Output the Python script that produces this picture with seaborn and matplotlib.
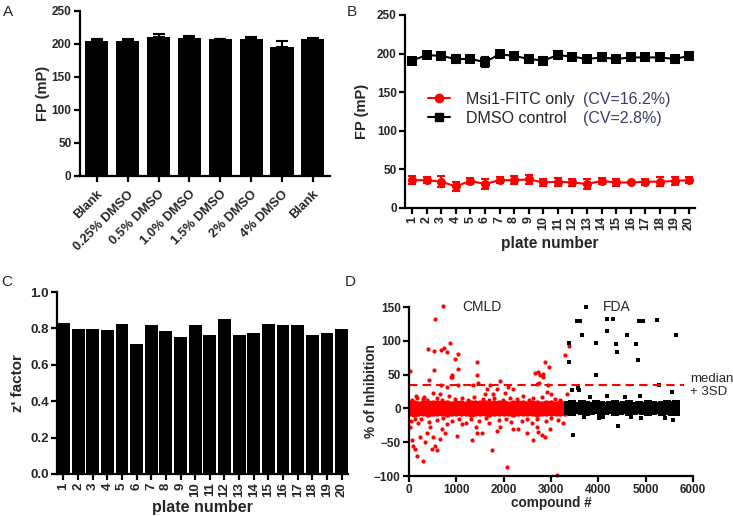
import numpy as np
import pandas as pd
import matplotlib
matplotlib.use('Agg')
from matplotlib import pyplot as plt
from matplotlib.lines import Line2D
import seaborn as sns

# ---------------- data ----------------
# A: DMSO tolerance
dmso_labels = ['Blank', '0.25% DMSO', '0.5% DMSO', '1.0% DMSO',
               '1.5% DMSO', '2% DMSO', '4% DMSO', 'Blank']
dmso_fp = [205, 205, 211, 209, 207, 207, 196, 208]
dmso_err = [2, 2, 4, 3, 1, 4, 8, 1]

# B: plate-to-plate FP
plates = [1, 2, 3, 4, 5, 6, 7, 8, 9, 10, 11, 12, 13, 14, 15, 16, 17, 18, 19, 20]
dmso_ctrl = [191, 198, 197, 193, 193, 189, 199, 197, 193, 191,
             198, 196, 193, 195, 193, 195, 195, 195, 193, 197]
dmso_ctrl_err = [3, 4, 3, 5, 3, 6, 3, 4, 5, 4, 5, 3, 4, 5, 3, 4, 4, 4, 5, 5]
msi1_only = [36, 36, 34, 28, 35, 31, 36, 36, 37, 33,
             34, 33, 31, 35, 33, 33, 34, 34, 35, 36]
msi1_only_err = [5, 4, 7, 6, 4, 6, 4, 5, 6, 4, 5, 4, 6, 4, 4, 1, 4, 6, 5, 4]

# C: z' factor per plate
zfactor = [0.828, 0.794, 0.794, 0.790, 0.826, 0.714, 0.817, 0.783, 0.753, 0.817,
           0.764, 0.854, 0.764, 0.774, 0.826, 0.817, 0.817, 0.764, 0.774, 0.794]

# D: screen, % inhibition
median_3sd = 34
# dense band of inactives (upper edge / centre / lower edge)
cmld_band_x = [0, 100, 200, 300, 400, 500, 600, 700, 800, 900, 1000, 1100,
               1200, 1300, 1400, 1500, 1600, 1700, 1800, 1900, 2000, 2100,
               2200, 2300, 2400, 2500, 2600, 2700, 2800, 2900, 3000, 3100,
               3200, 3300]
cmld_band_hi = [6, 7, 5, 7, 6, 7, 6, 7, 6, 5, 7, 6, 5, 7, 6, 7, 6,
                5, 7, 6, 7, 5, 6, 7, 6, 5, 7, 6, 5, 7, 6, 5, 6, 5]
cmld_band_mid = [0, 1, -1, 0, 1, 0, -1, 0, 1, 0, -1, 0, 1, 0, 0, -1, 1,
                 0, 0, 1, -1, 0, 1, 0, -1, 0, 1, 0, 0, -1, 1, 0, 0, 1]
cmld_band_lo = [-6, -7, -5, -6, -7, -5, -6, -5, -7, -6, -5, -6, -5, -7,
                -6, -5, -6, -7, -5, -6, -5, -6, -7, -5, -6, -5, -6, -7,
                -5, -6, -5, -6, -5, -6]
fda_band_x = [3350, 3450, 3550, 3650, 3750, 3850, 3950, 4050, 4150, 4250,
              4350, 4450, 4550, 4650, 4750, 4850, 4950, 5050, 5150, 5250,
              5350, 5450, 5550, 5650]
fda_band_hi = [5, 6, 4, 6, 5, 4, 6, 5, 4, 5, 6, 4, 5, 6, 4, 5, 4, 6, 5, 4, 5, 6, 5, 7]
fda_band_mid = [0, 1, 0, -1, 0, 1, 0, 0, -1, 0, 1, 0, 0, -1, 0, 1, 0, 0, -1, 0, 1, 0, 0, 1]
fda_band_lo = [-4, -5, -3, -4, -5, -4, -3, -5, -4, -3, -5, -4, -3, -5, -4,
               -3, -4, -5, -4, -3, -5, -4, -5, -6]

# scattered CMLD compounds
cmld_x = [712, 550, 409, 529, 677, 740, 810, 867, 973, 1028, 21, 536, 430,
          881, 917, 900, 1028, 1444, 1444, 1466, 810, 1042, 1353, 670, 500,
          148, 317, 655, 1642, 1712, 1607, 1769, 1854, 1924, 2030, 2100, 2206,
          2664, 2734, 2770, 2840, 2875, 2960, 2700, 2755, 2840, 2945, 2925,
          2995, 3298, 3370, 3333,
          60, 160, 300, 380, 590, 700, 850, 980, 1120, 1250, 1380, 1560, 1690,
          1800, 1990, 2130, 2290, 2400, 2530, 2610, 2810, 3080, 3200,
          40, 120, 200, 260, 420, 600, 720, 900, 1060, 1200, 1300, 1480, 1620,
          1700, 1900, 2050, 2150, 2380, 2500, 2600, 2700, 2900, 3000, 3150, 3250,
          21, 57, 92, 127, 176, 303, 233, 338, 374, 479, 550, 585, 514, 444,
          655, 691, 761, 797, 1008, 1114, 1325, 1431, 1537, 1416, 1748, 1854,
          1924, 2065, 2206, 2311, 2488, 2628, 2734, 2805, 2875, 3122, 2980, 2700]
cmld_y = [151, 133, 88, 85, 86, 90, 84, 97, 73, 80, 55, 57, 42,
          47, 49, 46, 58, 68, 49, 37, 31, 35, 34, 34, 23,
          19, 17, 22, 28, 35, 22, 21, 28, 40, 23, 32, 28,
          52, 54, 50, 51, 68, 61, 36, 38, 46, 35, 24,
          22, 79, 93, 22,
          12, 15, 14, 12, 16, 13, 18, 14, 16, 13, 17, 14, 12,
          15, 13, 16, 14, 18, 13, 15, 17, 14, 12,
          -18, -15, -22, -16, -20, -17, -14, -19, -16, -21, -15, -18, -14,
          -22, -17, -15, -20, -18, -16, -22, -15, -19, -14, -17, -21,
          -28, -47, -55, -60, -70, -78, -42, -50, -36, -60, -55, -62, -42, -28,
          -45, -30, -37, -23, -41, -23, -46, -36, -37, -28, -61, -33,
          -28, -86, -30, -30, -36, -47, -35, -40, -42, -99, -30, -28]

# scattered FDA compounds
fda_x = [3742, 3545, 3615, 4180, 4320, 4863, 4953, 5236, 3665, 4180, 4602,
         5638, 3383, 3947, 4370, 4793, 4391, 3383, 4848, 3953, 5285, 3440,
         3580, 3600, 3827, 4180, 4567, 4884, 5553,
         3460, 4425, 4023, 4905, 5575, 3700, 4100, 4700, 5400]
fda_y = [150, 130, 130, 132, 132, 130, 130, 131, 109, 114, 109,
         108, 97, 97, 96, 95, 83, 68, 71, 49, 35, 27,
         30, 27, 17, 19, 17, 19, 25,
         -39, -26, -14, -14, -17, -12, -13, -12, -14]

# ---------------- style ----------------
sns.set_style('ticks')
plt.rcParams['font.family'] = ['Liberation Sans', 'DejaVu Sans']

TICK_FS = 8.5


def prism_axes(ax):
    sns.despine(ax=ax)
    for side in ['left', 'bottom']:
        ax.spines[side].set_linewidth(1.6)
        ax.spines[side].set_color('black')
    ax.tick_params(width=1.6, length=4, labelsize=TICK_FS, color='black',
                   pad=2)


def bold_ticks(ax):
    for lbl in ax.get_xticklabels() + ax.get_yticklabels():
        lbl.set_fontweight('bold')


fig = plt.figure(figsize=(7.33, 5.16), dpi=100)

# ---------------- A ----------------
ax = fig.add_axes([0.109, 0.659, 0.341, 0.320])
df_a = pd.DataFrame({'cond': dmso_labels, 'fp': dmso_fp, 'err': dmso_err})
sns.barplot(x=df_a.index, y=df_a['fp'], color='black', saturation=1,
            width=0.75, errorbar=None, linewidth=0, ax=ax)
ax.errorbar(df_a.index, df_a['fp'], yerr=[np.zeros(len(df_a)), df_a['err']],
            fmt='none', ecolor='black', elinewidth=1.5, capsize=4, capthick=1.5)
prism_axes(ax)
ax.set_xlim(-0.55, 7.55)
ax.set_ylim(0, 250)
ax.set_yticks([0, 50, 100, 150, 200, 250])
ax.set_xticks(df_a.index)
ax.set_xticklabels(dmso_labels, rotation=45, ha='right', rotation_mode='anchor',
                   fontsize=9.3)
ax.tick_params(axis='x', pad=5)
ax.set_xlabel('')
ax.set_ylabel('FP (mP)', fontsize=10.5, fontweight='bold')
ax.yaxis.set_label_coords(-0.12, 0.5)
bold_ticks(ax)

# ---------------- B ----------------
ax = fig.add_axes([0.5525, 0.597, 0.3956, 0.374])
sns.lineplot(x=plates, y=dmso_ctrl, color='black', marker='s', markersize=6.5,
             markeredgewidth=0, linewidth=1.5, ax=ax)
ax.errorbar(plates, dmso_ctrl, yerr=dmso_ctrl_err, fmt='none', ecolor='black',
            elinewidth=1.5, capsize=3, capthick=1.5)
sns.lineplot(x=plates, y=msi1_only, color='red', marker='o', markersize=6.5,
             markeredgewidth=0, linewidth=1.5, ax=ax)
ax.errorbar(plates, msi1_only, yerr=msi1_only_err, fmt='none', ecolor='red',
            elinewidth=1.5, capsize=3, capthick=1.5)
prism_axes(ax)
ax.set_xlim(0.52, 20.4)
ax.set_ylim(0, 250)
ax.set_yticks([0, 50, 100, 150, 200, 250])
ax.set_xticks(plates)
ax.set_xticklabels(plates, rotation=90, fontsize=9)
ax.set_xlabel('plate number', fontsize=11.2, fontweight='bold')
ax.xaxis.set_label_coords(0.5, -0.145)
ax.set_ylabel('FP (mP)', fontsize=10.5, fontweight='bold')
ax.yaxis.set_label_coords(-0.124, 0.5)
handles = [Line2D([], [], color='red', marker='o', markersize=6, lw=1.5),
           Line2D([], [], color='black', marker='s', markersize=6, lw=1.5)]
ax.legend(handles, ['Msi1-FITC only', 'DMSO control'], loc='upper left',
          bbox_to_anchor=(0.03, 0.676), frameon=False, fontsize=11.5,
          handlelength=1.4, handletextpad=1.0, labelspacing=0.25)
ax.text(0.614, 0.56, '(CV=16.2%)', transform=ax.transAxes, fontsize=11.5,
        color='#3c3c6e', va='center')
ax.text(0.614, 0.461, '(CV=2.8%)', transform=ax.transAxes, fontsize=11.5,
        color='#3c3c6e', va='center')
bold_ticks(ax)

# ---------------- C ----------------
ax = fig.add_axes([0.0778, 0.0814, 0.397, 0.3527])
sns.barplot(x=plates, y=zfactor, color='black', saturation=1, width=0.88,
            errorbar=None, linewidth=0, ax=ax)
prism_axes(ax)
ax.set_xlim(-0.44, 19.44)
ax.set_ylim(0, 1.0)
ax.set_yticks([0.0, 0.2, 0.4, 0.6, 0.8, 1.0])
ax.set_yticklabels(['0.0', '0.2', '0.4', '0.6', '0.8', '1.0'], fontsize=9.5)
ax.set_xticks(range(len(plates)))
ax.set_xticklabels(plates, rotation=90, fontsize=9.5)
ax.set_xlabel('plate number', fontsize=11.5, fontweight='bold')
ax.xaxis.set_label_coords(0.5, -0.143)
ax.set_ylabel("z' factor", fontsize=11, fontweight='bold')
ax.yaxis.set_label_coords(-0.11, 0.5)
bold_ticks(ax)

# ---------------- D ----------------
ax = fig.add_axes([0.558, 0.0775, 0.3874, 0.3275])
cmld_band = pd.DataFrame({'x': cmld_band_x * 3,
                          'y': cmld_band_hi + cmld_band_mid + cmld_band_lo})
fda_band = pd.DataFrame({'x': fda_band_x * 3,
                         'y': fda_band_hi + fda_band_mid + fda_band_lo})
sns.scatterplot(data=cmld_band, x='x', y='y', color='red', marker='o', s=36,
                linewidth=0, ax=ax)
sns.scatterplot(x=cmld_x, y=cmld_y, color='red', marker='o', s=9,
                linewidth=0, clip_on=False, ax=ax)
sns.scatterplot(data=fda_band, x='x', y='y', color='black', marker='s', s=28,
                linewidth=0, ax=ax)
sns.scatterplot(x=fda_x, y=fda_y, color='black', marker='s', s=8,
                linewidth=0, clip_on=False, ax=ax)
ax.plot([0, 5800], [median_3sd, median_3sd], color='red', lw=1.5,
        ls=(0, (4, 2.5)))
prism_axes(ax)
ax.set_xlim(0, 6000)
ax.set_ylim(-100, 150)
ax.set_xticks([0, 1000, 2000, 3000, 4000, 5000, 6000])
ax.set_yticks([-100, -50, 0, 50, 100, 150])
ax.text(1120, 150, 'CMLD', fontsize=10, va='center')
ax.text(4100, 150, 'FDA', fontsize=10, va='center')
ax.text(5930, median_3sd, 'median\n+ 3SD', fontsize=9.5, va='center',
        ha='left', clip_on=False)
ax.set_xlabel('compound #', fontsize=9.8, fontweight='bold')
ax.xaxis.set_label_coords(0.5, -0.118)
ax.set_ylabel('% of Inhibition', fontsize=9.8, fontweight='bold')
ax.yaxis.set_label_coords(-0.109, 0.5)
bold_ticks(ax)

# panel letters
for letter, xf, yf in [('A', 0.004, 1 - 12 / 516), ('B', 0.473, 1 - 12 / 516),
                       ('C', 0.002, 1 - 282 / 516), ('D', 0.471, 1 - 282 / 516)]:
    fig.text(xf, yf, letter, fontsize=11, va='center', ha='left')

fig.savefig('out.png', dpi=100)
